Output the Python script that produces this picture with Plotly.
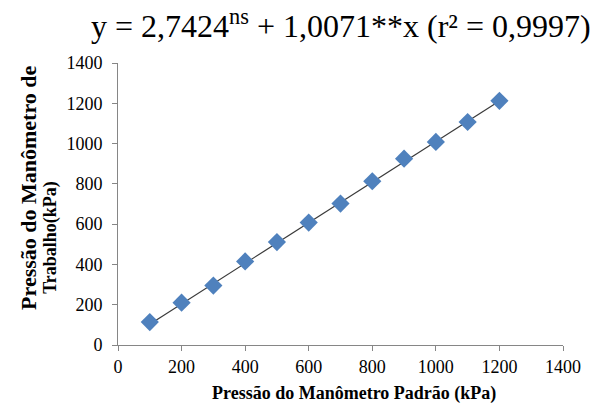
import plotly.graph_objects as go

# Calibration readings: reference gauge vs working gauge (kPa)
padrao = [100, 200, 300, 400, 500, 600, 700, 800, 900, 1000, 1100, 1200]
trabalho = [114, 210, 295, 415, 511, 608, 702, 813, 925, 1008, 1107, 1212]

# Fitted regression coefficients
intercept = 2.7424
slope = 1.0071

x_ticks = [0, 200, 400, 600, 800, 1000, 1200, 1400]
y_ticks = [0, 200, 400, 600, 800, 1000, 1200, 1400]

fit_x = [padrao[0], padrao[-1]]
fit_y = [intercept + slope * v for v in fit_x]

serif = "Liberation Serif"
axis_grey = "#868686"

fig = go.Figure()
fig.add_trace(go.Scatter(
    x=fit_x, y=fit_y, mode="lines",
    line=dict(color="#3a3a3a", width=1.2),
    showlegend=False, hoverinfo="skip",
))
fig.add_trace(go.Scatter(
    x=padrao, y=trabalho, mode="markers",
    marker=dict(symbol="diamond", size=14, color="#4F81BD",
                line=dict(width=0)),
    showlegend=False,
))

fig.update_layout(
    width=597, height=408,
    margin=dict(l=118, r=34, t=63, b=63),
    paper_bgcolor="white", plot_bgcolor="white",
    font=dict(family=serif, color="black", size=18),
    xaxis=dict(
        range=[0, 1400], tickvals=x_ticks,
        showgrid=False, zeroline=False,
        showline=True, linecolor=axis_grey, linewidth=1,
        ticks="outside", ticklen=5, tickcolor=axis_grey,
        tickfont=dict(family=serif, size=18, color="black"),
    ),
    yaxis=dict(
        range=[0, 1400], tickvals=y_ticks,
        showgrid=False, zeroline=False,
        showline=True, linecolor=axis_grey, linewidth=1,
        ticks="outside", ticklen=5, tickcolor=axis_grey,
        ticklabelstandoff=6,
        tickfont=dict(family=serif, size=18, color="black"),
    ),
)

# X-axis title
fig.add_annotation(
    text="<b>Pressão do Manômetro Padrão (kPa)</b>",
    xref="paper", yref="paper", x=0.53, y=0, yshift=-48,
    xanchor="center", yanchor="middle",
    showarrow=False, font=dict(family=serif, size=18, color="black"),
)

# Rotated y-axis title, two lines
fig.add_annotation(
    text="<b>Pressão do Manômetro de</b>",
    xref="paper", yref="paper", x=0, xshift=-89, y=0.557,
    xanchor="center", yanchor="middle", textangle=-90,
    showarrow=False, font=dict(family=serif, size=22, color="black"),
)
fig.add_annotation(
    text="<b>Trabalho(kPa)</b>",
    xref="paper", yref="paper", x=0, xshift=-67, y=0.38,
    xanchor="center", yanchor="middle", textangle=-90,
    showarrow=False, font=dict(family=serif, size=18, color="black"),
)

# Regression equation above the plot
fig.add_annotation(
    text="y = 2,7424<sup>ns</sup> + 1,0071**x (r² = 0,9997)",
    xref="paper", yref="paper", x=0.5, y=1.0, yshift=39,
    xanchor="center", yanchor="middle",
    showarrow=False, font=dict(family=serif, size=32, color="black"),
)

fig.write_html("out.html")
